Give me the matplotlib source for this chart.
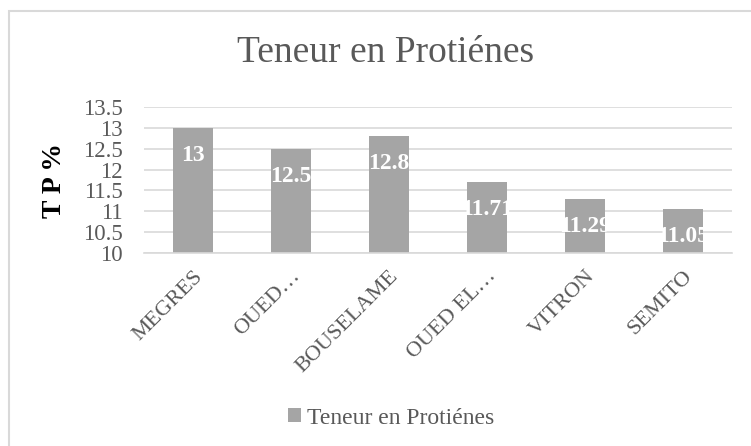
import matplotlib
matplotlib.use("Agg")
import matplotlib.pyplot as plt
from matplotlib.patches import Rectangle

categories = ["MEGRES", "OUED…", "BOUSELAME", "OUED EL…", "VITRON", "SEMITO"]
values = [13, 12.5, 12.8, 11.71, 11.29, 11.05]
value_labels = ["13", "12.5", "12.8", "11.71", "11.29", "11.05"]
series_name = "Teneur en Protiénes"
yticks = [10, 10.5, 11, 11.5, 12, 12.5, 13, 13.5]
ytick_labels = ["10", "10.5", "11", "11.5", "12", "12.5", "13", "13.5"]

plt.rcParams['font.family'] = ['Liberation Serif', 'DejaVu Serif']
W, H = 751, 446
fig = plt.figure(figsize=(W/100, H/100), dpi=100)

# outer chart border
fig.patches.append(Rectangle((9/W, -0.1), 1.2, (H-11)/H + 0.1, transform=fig.transFigure,
                             fill=False, edgecolor="#d9d9d9", linewidth=1.5))

ax = fig.add_axes([144/W, 1-253/H, (732-144)/W, (253-107)/H])
bar_color = "#a5a5a5"
text_color = "#595959"
x = range(len(categories))
bars = ax.bar(x, values, width=0.4, color=bar_color, zorder=2, label=series_name)
ax.set_ylim(10, 13.5)
ax.set_xlim(-0.5, len(categories)-0.5)
ax.set_yticks(yticks)
ax.set_yticklabels(ytick_labels, fontsize=16.5, color=text_color)
ax.yaxis.grid(True, color="#d9d9d9", linewidth=1.2, zorder=0)
ax.set_axisbelow(True)
for s in ["top", "right", "left"]:
    ax.spines[s].set_visible(False)
ax.spines["bottom"].set_color("#d9d9d9")
ax.spines["bottom"].set_linewidth(1.2)
ax.tick_params(axis="y", length=0, pad=15)
ax.tick_params(axis="x", length=0, pad=10)
ax.set_xticks(list(x))
ax.set_xticklabels(categories, rotation=45, ha="right", rotation_mode="anchor",
                   fontsize=16, color=text_color)

for xi, v, lab in zip(x, values, value_labels):
    ax.annotate(lab, xy=(xi, v), xytext=(0, -20), textcoords="offset points",
                ha="center", va="center", color="white", fontsize=17,
                fontweight="bold", zorder=3)

ax.set_ylabel("T P %", fontsize=20, fontweight="bold", color="black", labelpad=12)

fig.text(386/W, 1-53/H, "Teneur en Protiénes", ha="center", va="center",
         fontsize=27, color=text_color)

leg = fig.legend(handles=[bars], labels=[series_name], loc="center",
                 bbox_to_anchor=(391/W, 1-418/H), frameon=False, fontsize=17,
                 handlelength=0.55, handleheight=0.55, handletextpad=0.25)
for t in leg.get_texts():
    t.set_color(text_color)

fig.savefig("out.png", dpi=100)
